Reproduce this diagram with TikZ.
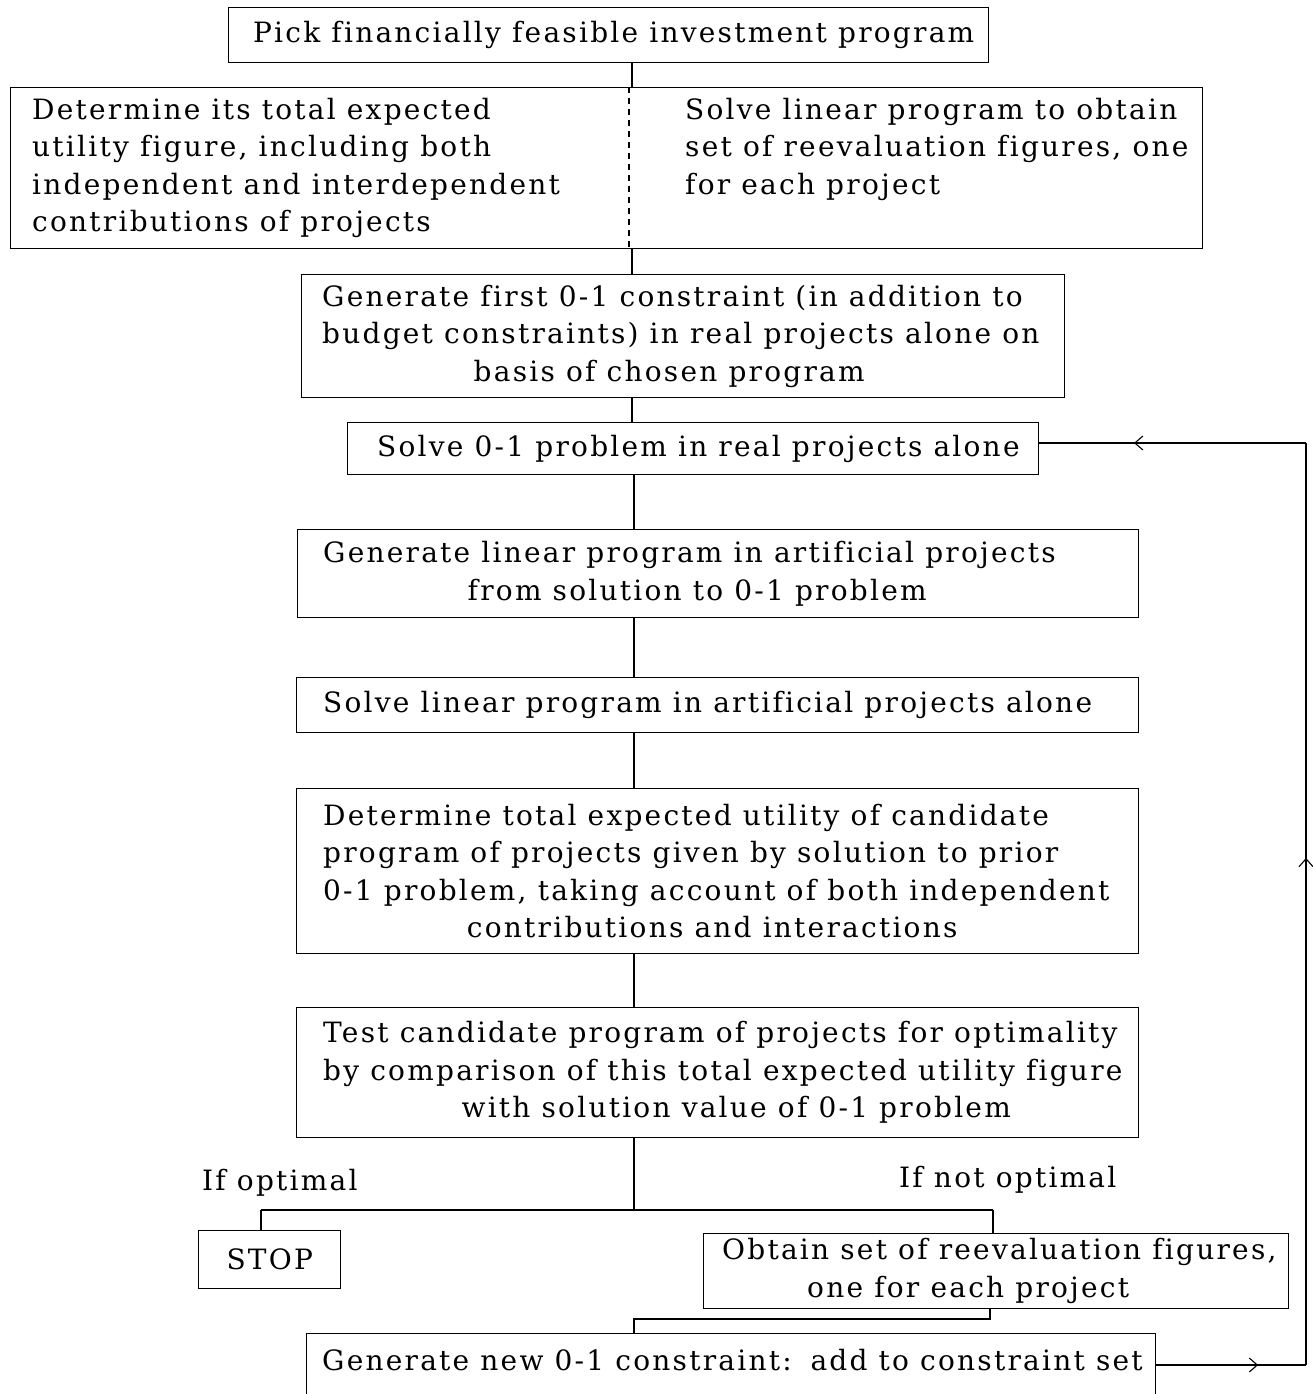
\documentclass[tikz,border=0pt]{standalone}
\usepackage{fontspec}
\setmainfont{DejaVu Serif}[LetterSpace=8,Ligatures=NoCommon,RawFeature={-liga}]
\usetikzlibrary{arrows.meta,decorations.markings}
\newcommand{\ctrline}[2]{\makebox[#1][c]{#2}}
\begin{document}
\begin{tikzpicture}[x=1pt,y=-1pt,
  box/.style={draw, line width=1.4pt, inner sep=0pt, anchor=north west},
  txt/.style={inner sep=0pt, font=\fontsize{28}{37.5}\selectfont, align=left},
  wire/.style={line width=1.1pt},
  midarrow/.style={postaction={decorate}, decoration={markings,
     mark=at position #1 with {\arrow{Straight Barb[length=8pt,width=14pt,line width=1.1pt]}}}}
]
\useasboundingbox (0,0) rectangle (1313,1394);
\fill[white] (0,0) rectangle (1313,1394);

% boxes
\node[box, minimum width=760pt, minimum height=55pt] (b1) at (228,7) {};
\node[box, minimum width=1192pt, minimum height=161pt] (b2) at (10,87) {};
\node[box, minimum width=763pt, minimum height=123pt] (b3) at (301,274) {};
\node[box, minimum width=691pt, minimum height=52pt] (b4) at (347,422) {};
\node[box, minimum width=841pt, minimum height=88pt] (b5) at (297,529) {};
\node[box, minimum width=842pt, minimum height=55pt] (b6) at (296,677) {};
\node[box, minimum width=842pt, minimum height=165pt] (b7) at (296,788) {};
\node[box, minimum width=842pt, minimum height=130pt] (b8) at (296,1007) {};
\node[box, minimum width=142pt, minimum height=58pt] (stop) at (198,1230) {};
\node[box, minimum width=585pt, minimum height=75pt] (ob) at (703,1233) {};
\node[box, minimum width=849pt, minimum height=90pt] (gn) at (306,1333) {};

% texts
\node[txt] (t1) at ([xshift=5pt]b1.center) {Pick financially feasible investment program};
\node[txt, anchor=west] (t2a) at ([xshift=22pt]b2.west) {Determine its total expected\\utility figure, including both\\independent and interdependent\\contributions of projects};
\node[txt, anchor=north west] (t2b) at ([xshift=653pt]t2a.north west) {Solve linear program to obtain\\set of reevaluation figures, one\\for each project};
\node[txt, anchor=west] (t3) at ([xshift=21pt]b3.west) {Generate first 0-1 constraint (in addition to\\budget constraints) in real projects alone on\\\ctrline{694pt}{basis of chosen program}};
\node[txt, anchor=west] (t4) at ([xshift=30pt]b4.west) {Solve 0-1 problem in real projects alone};
\node[txt, anchor=west] (t5) at ([xshift=26pt]b5.west) {Generate linear program in artificial projects\\\ctrline{748pt}{from solution to 0-1 problem}};
\node[txt, anchor=west] (t6) at ([xshift=27pt]b6.west) {Solve linear program in artificial projects alone};
\node[txt, anchor=west] (t7) at ([xshift=27pt]b7.west) {Determine total expected utility of candidate\\program of projects given by solution to prior\\0-1 problem, taking account of both independent\\\ctrline{778pt}{contributions and interactions}};
\node[txt, anchor=west] (t8) at ([xshift=27pt]b8.west) {Test candidate program of projects for optimality\\by comparison of this total expected utility figure\\\ctrline{826pt}{with solution value of 0-1 problem}};
\node[txt] (tstop) at (stop.center) {STOP};
\node[txt, anchor=west] (tob) at ([xshift=19pt]ob.west) {Obtain set of reevaluation figures,\\\ctrline{492pt}{one for each project}};
\node[txt, anchor=base west] (tgn) at (322,1370) {Generate new 0-1 constraint:\hspace{4pt} add to constraint set};
\node[txt, anchor=base west] (lopt) at (202,1190) {If optimal};
\node[txt, anchor=base west] (lnopt) at (899,1187) {If not optimal};

% connectors
\coordinate (sp) at (632,0);
\coordinate (sp2) at (634,0);
\coordinate (dv) at (629,0);
\draw[wire] (b1.south -| sp) -- (b2.north -| sp);
\draw[wire, dashed, dash pattern=on 6pt off 5pt] (b2.north -| dv) -- (b2.south -| dv);
\draw[wire] (b2.south -| sp) -- (b3.north -| sp);
\draw[wire] (b3.south -| sp) -- (b4.north -| sp);
\draw[wire] (b4.south -| sp2) -- (b5.north -| sp2);
\draw[wire] (b5.south -| sp2) -- (b6.north -| sp2);
\draw[wire] (b6.south -| sp2) -- (b7.north -| sp2);
\draw[wire] (b7.south -| sp2) -- (b8.north -| sp2);

\coordinate (jl) at (261,1210);
\coordinate (jr) at (993,1210);
\draw[wire] (b8.south -| sp2) -- (jl -| sp2);
\draw[wire] (jl) -- (jr);
\draw[wire] (jl) -- (jl |- stop.north);
\draw[wire] (jr) -- (jr |- ob.north);

\coordinate (kr) at (990,1319);
\draw[wire] (ob.south -| kr) -- (kr) -- (kr -| sp2) -- (gn.north -| sp2);

\coordinate (lr) at (1306,1365);
\coordinate (lt) at (1306,443);
\draw[wire, midarrow=0.68] (gn.east |- lr) -- (lr);
\draw[wire, midarrow=0.55] (lr) -- (lt);
\draw[wire, midarrow=0.645] (lt) -- (lt -| b4.east);
\end{tikzpicture}
\end{document}
